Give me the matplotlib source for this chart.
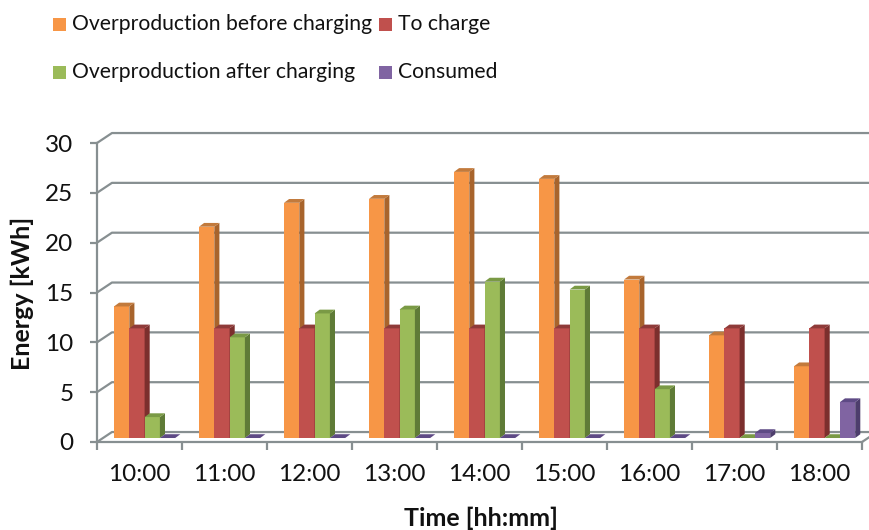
import matplotlib.pyplot as plt
from matplotlib.patches import Polygon, Rectangle

# hourly energy balance (kWh)
times = ['10:00', '11:00', '12:00', '13:00', '14:00', '15:00', '16:00', '17:00', '18:00']
before_charging = [13.2, 21.2, 23.6, 24.0, 26.7, 26.0, 15.9, 10.3, 7.2]
to_charge = [11, 11, 11, 11, 11, 11, 11, 11, 11]
after_charging = [2.1, 10.1, 12.5, 12.9, 15.7, 14.9, 4.9, 0, 0]
consumed = [0, 0, 0, 0, 0, 0, 0, 0.5, 3.6]

names = ['Overproduction before charging', 'To charge',
         'Overproduction after charging', 'Consumed']
series = [before_charging, to_charge, after_charging, consumed]
# front, side, top shades for each series
colors = [('#f79646', '#a8642c', '#c27a3c'),
          ('#c0504d', '#7c2f2d', '#8f3b39'),
          ('#9bbb59', '#5f7b37', '#7a9a45'),
          ('#8064a2', '#4d3d6c', '#5e4a85')]

plt.rcParams['font.family'] = ['Lato', 'DejaVu Sans']
grid = '#878f91'
ink = '#111111'

fig = plt.figure(figsize=(8.7, 5.3), dpi=100)
ax = fig.add_axes([97 / 870, 88 / 530, 765 / 870, 299 / 530])
ax.set_xlim(0, 9)
ax.set_ylim(0, 30)

# back wall: gridlines pushed back by the chart depth
DX, DY = 0.176, 1.0
for v in range(0, 31, 5):
    ax.plot([0, DX, 9.3], [v, v + DY, v + DY], color=grid, lw=1.6,
            clip_on=False, zorder=1, solid_capstyle='butt')
ax.plot([9, 9 + DX], [0, DY], color=grid, lw=1.6, clip_on=False, zorder=1)

# pseudo-3d columns
W = 0.18
SX, SY = 0.06, 0.38
BASE = 0.4
for k, (vals, (front, side, top)) in enumerate(zip(series, colors)):
    xs = [i + 0.2 + k * W for i in range(len(times))]
    z = 2 + k
    ax.bar(xs, vals, width=W, bottom=BASE, align='edge', color=front,
           linewidth=0, zorder=z, label=names[k])
    for x, h in zip(xs, vals):
        y1 = BASE + h
        if h > 0:
            ax.add_patch(Polygon([(x + W, BASE), (x + W + SX, BASE + SY),
                                  (x + W + SX, y1 + SY), (x + W, y1)],
                                 closed=True, color=side, lw=0, zorder=z))
        ax.add_patch(Polygon([(x, y1), (x + SX, y1 + SY),
                              (x + W + SX, y1 + SY), (x + W, y1)],
                             closed=True, color=top, lw=0, zorder=z))

for s in ['top', 'right']:
    ax.spines[s].set_visible(False)
for s in ['left', 'bottom']:
    ax.spines[s].set_color(grid)
    ax.spines[s].set_linewidth(1.6)
    ax.spines[s].set_zorder(1)

ax.set_yticks(range(0, 31, 5))
ax.tick_params(axis='y', length=5, width=1.6, color=grid, pad=12,
               labelsize=17.5, labelcolor=ink)
ax.set_xticks(range(0, 10))
ax.set_xticks([i + 0.5 for i in range(len(times))], minor=True)
ax.set_xticklabels([])
ax.set_xticklabels(times, minor=True)
ax.tick_params(axis='x', which='major', length=6, width=1.6, color=grid)
ax.tick_params(axis='x', which='minor', length=0, pad=16,
               labelsize=17.5, labelcolor=ink)

fig.text(22 / 870, 1 - 293 / 530, 'Energy [kWh]', rotation=90, fontsize=18,
         fontweight='bold', ha='center', va='center', color=ink)
fig.text(481 / 870, 1 - 518 / 530, 'Time [hh:mm]', fontsize=18,
         fontweight='bold', ha='center', va='center', color=ink)

# legend laid out in two rows
spots = [(53, 24), (379, 24), (53, 72), (379, 72)]
for (px, py), name, (front, _, _) in zip(spots, names, colors):
    fig.patches.append(Rectangle((px / 870, 1 - (py + 6.5) / 530), 13 / 870, 13 / 530,
                                 transform=fig.transFigure, color=front, lw=0))
    fig.text((px + 19) / 870, 1 - py / 530, name, fontsize=15.2,
             ha='left', va='center', color=ink)

fig.savefig('out.png', dpi=100)
